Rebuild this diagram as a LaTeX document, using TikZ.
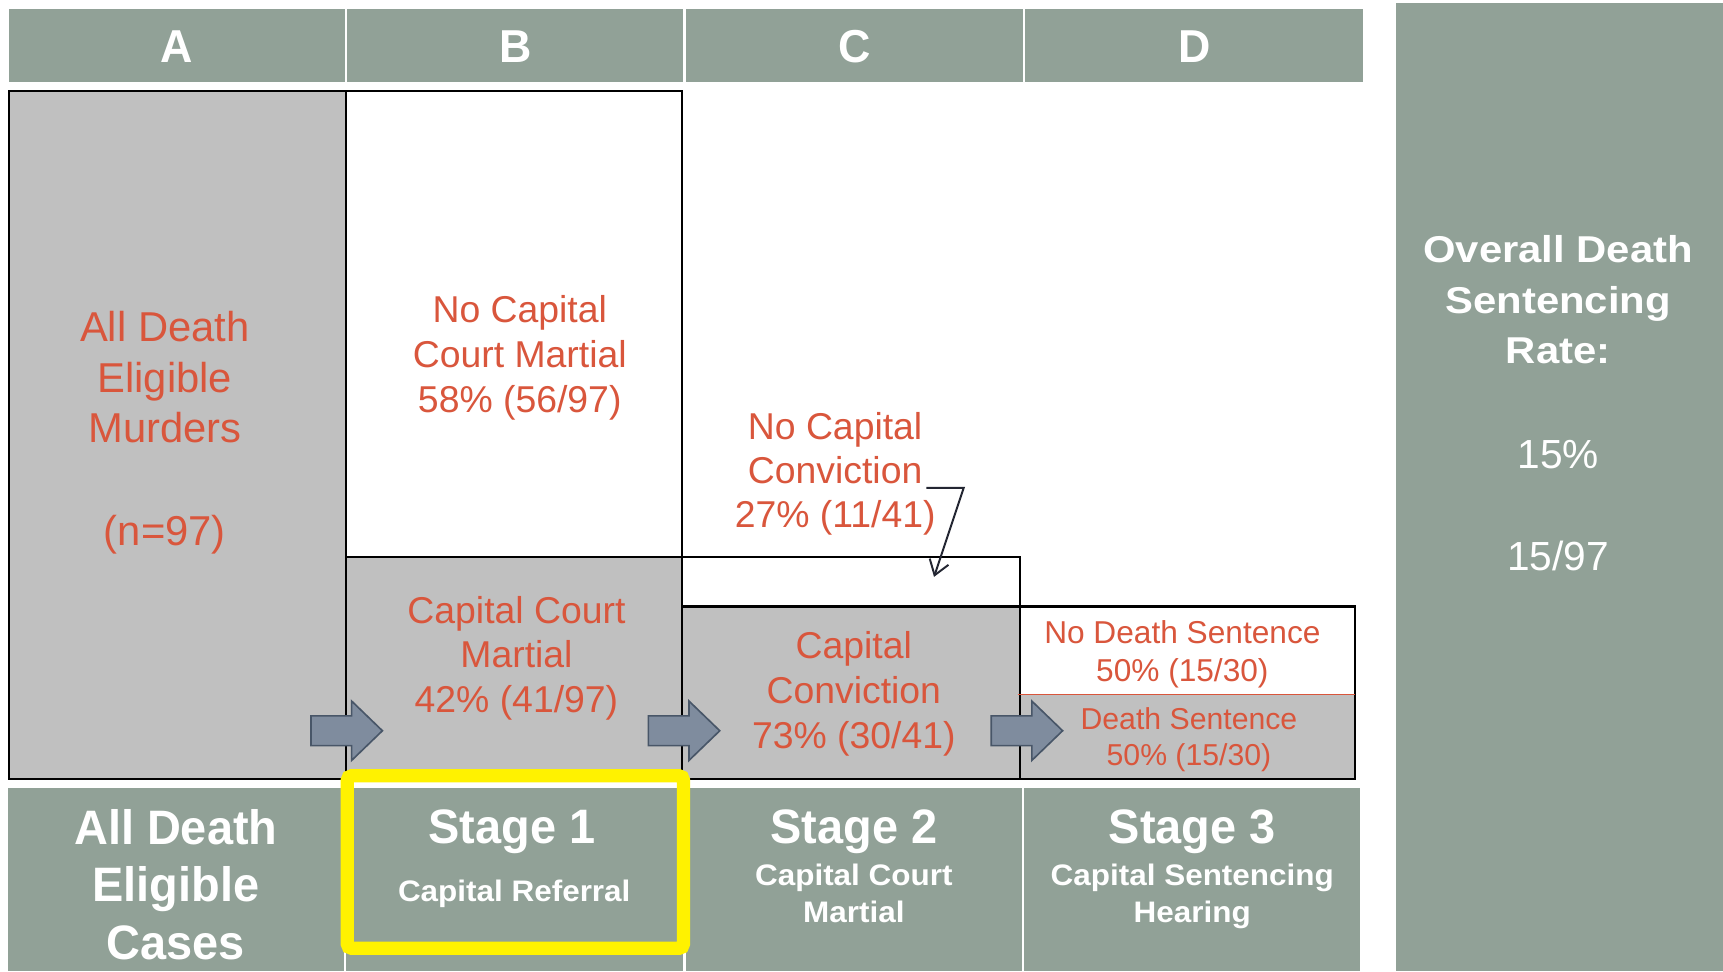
\documentclass[tikz,border=0pt]{standalone}
\usepackage{fontspec}
\setmainfont{Liberation Sans}
\newfontfamily\headfont[FakeStretch=0.97]{Liberation Sans}
\newfontfamily\subfont[FakeStretch=1.06]{Liberation Sans}
\newfontfamily\widefont[FakeStretch=1.12]{Liberation Sans}
\usetikzlibrary{arrows.meta}
\definecolor{sage}{RGB}{145,161,151}
\definecolor{boxgray}{RGB}{192,192,192}
\definecolor{redtxt}{RGB}{217,86,60}
\definecolor{arrowfill}{RGB}{127,140,158}
\definecolor{arrowline}{RGB}{72,86,104}
\definecolor{calloutcol}{RGB}{35,38,50}
\tikzset{
  sagecell/.style={fill=sage},
  graybox/.style={fill=boxgray, draw=black, line width=2},
  whitebox/.style={fill=white, draw=black, line width=2},
  redtext/.style={text=redtxt, align=center, inner sep=0},
  whitetext/.style={text=white, align=center, inner sep=0},
  letterhead/.style={whitetext, anchor=base, font=\headfont\bfseries\fontsize{42}{50}\selectfont},
  stagehead/.style={whitetext, anchor=base, font=\headfont\bfseries\fontsize{44}{52}\selectfont},
  stagesub/.style={whitetext, font=\subfont\bfseries\fontsize{27}{34}\selectfont},
  blockarrow/.pic={
    \draw[fill=arrowfill, draw=arrowline, line width=1.5, line join=miter]
      (-65,-13.5) -- (-28,-13.5) -- (-28,-27) -- (0,0) -- (-28,27) -- (-28,13.5) -- (-65,13.5) -- cycle;
  },
  calloutline/.style={draw=calloutcol, line width=1.8, -{Straight Barb[length=13pt,width=18pt,line width=1.8pt]}},
  highlight/.style={draw=yellow, line width=12, rounded corners=4},
}
\begin{document}
\begin{tikzpicture}[x=1pt,y=-1pt]
\useasboundingbox (0,0) rectangle (1568,884);
\fill[white] (0,0) rectangle (1568,884);

% header row
\fill[sagecell] (8,8) rectangle (314,75);
\fill[sagecell] (316,8) rectangle (622,75);
\fill[sagecell] (624,8) rectangle (931,75);
\fill[sagecell] (933,8) rectangle (1240,75);
\node[letterhead] (hA) at (161,57) {A};
\node[letterhead] (hB) at (469,57) {B};
\node[letterhead] (hC) at (778,57) {C};
\node[letterhead] (hD) at (1087,57) {D};

% right panel
\fill[sagecell] (1270,3) rectangle (1568,884);
\node[whitetext, font=\widefont\bfseries\fontsize{34}{46}\selectfont] (overall) at (1418,273) {Overall Death\\Sentencing\\Rate:};
\node[whitetext, anchor=base, font=\fontsize{37}{44}\selectfont] (pct) at (1418,426) {15\%};
\node[whitetext, anchor=base, font=\fontsize{37}{44}\selectfont] (frac) at (1418,519) {15/97};

% bottom row
\fill[sagecell] (7,717) rectangle (313,884);
\fill[sagecell] (315,717) rectangle (622,884);
\fill[sagecell] (624,717) rectangle (930,884);
\fill[sagecell] (932,717) rectangle (1238,884);

% main boxes
\filldraw[graybox] (8,83) rectangle (315,709);
\filldraw[whitebox] (315,83) rectangle (621,507);
\filldraw[graybox] (315,507) rectangle (621,709);
\filldraw[whitebox] (621,507) rectangle (928,552);
\filldraw[graybox] (621,552) rectangle (928,709);
\fill[white] (928,552) rectangle (1233,632);
\fill[boxgray] (928,632) rectangle (1233,709);
\draw[black, line width=2] (928,552) -- (1233,552) -- (1233,709) -- (928,709);
\draw[black, line width=2] (928,507) -- (928,709);
\draw[redtxt, line width=1.5] (926,632) -- (1233,632);

% texts in boxes
\node[redtext, font=\fontsize{38}{46}\selectfont] (allmurders) at (150,394) {All Death\\Eligible\\Murders\\[48pt](n=97)};
\node[redtext, font=\fontsize{34}{41}\selectfont] (nocm) at (473,326) {No Capital\\Court Martial\\58\% (56/97)};
\node[redtext, font=\fontsize{34}{40.5}\selectfont] (cm) at (470,599) {Capital Court\\Martial\\42\% (41/97)};
\node[redtext, font=\fontsize{34}{40}\selectfont] (nocc) at (760,431) {No Capital\\Conviction\\27\% (11/41)};
\node[redtext, font=\fontsize{34}{41}\selectfont] (cc) at (777,631) {Capital\\Conviction\\73\% (30/41)};
\node[redtext, font=\fontsize{28.8}{35}\selectfont] (nods) at (1076,595.5) {No Death Sentence\\50\% (15/30)};
\node[redtext, font=\fontsize{27.5}{33}\selectfont] (ds) at (1082,673) {Death Sentence\\50\% (15/30)};

% callout
\coordinate (calloutstart) at (843,444);
\coordinate (calloutbend) at (877,444);
\coordinate (callouttip) at (850,525);
\draw[calloutline] (calloutstart) -- (calloutbend) -- (callouttip);

% block arrows
\pic at (348,665) {blockarrow};
\pic at (655,665) {blockarrow};
\pic at (967,665) {blockarrow};

% bottom texts
\node[whitetext, font=\headfont\bfseries\fontsize{44}{52.5}\selectfont] (alleligible) at (160,805) {All Death\\Eligible\\Cases};
\node[stagehead] (s1) at (466,768) {Stage 1};
\node[stagehead] (s2) at (777,768) {Stage 2};
\node[stagehead] (s3) at (1085,768) {Stage 3};
\node[stagesub, anchor=base] (s1sub) at (468,820) {Capital Referral};
\node[stagesub] (s2sub) at (777,813) {Capital Court\\Martial};
\node[stagesub] (s3sub) at (1085,815.5) {Capital Sentencing\\Hearing};

% yellow highlight
\draw[highlight] (316,706) rectangle (622,863);
\end{tikzpicture}
\end{document}
